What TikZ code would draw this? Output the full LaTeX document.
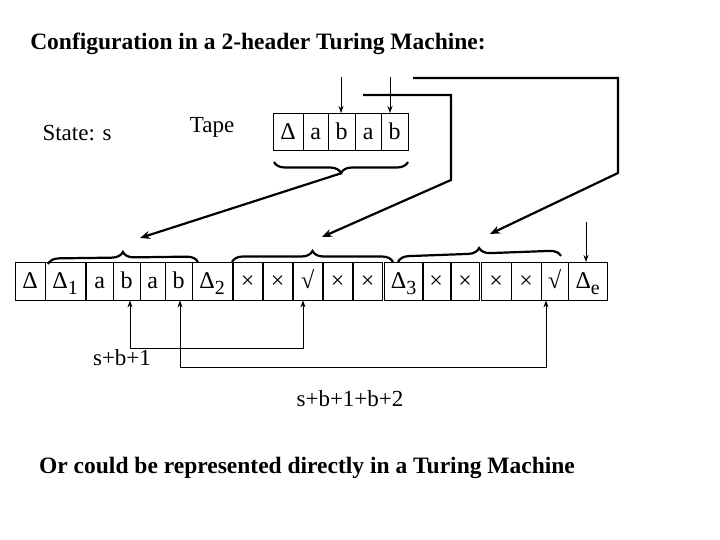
\documentclass[tikz,border=0pt]{standalone}
\usepackage{fontspec}
\setmainfont{Liberation Serif}
\usetikzlibrary{decorations.pathreplacing,arrows.meta}
\newcommand{\sbs}[1]{\raisebox{-6pt}{\fontsize{20}{20}\selectfont #1}}
\begin{document}
\begin{tikzpicture}[x=1pt,y=-1pt,
  cell/.style={draw,thin,anchor=north west,inner sep=0pt,text height=17pt,text depth=2pt,font=\fontsize{24}{26}\selectfont},
  conn/.style={line width=2.2pt,-{Stealth[length=10pt,width=8pt]}},
  thin arr/.style={line width=1pt,-{Stealth[length=7pt,width=5pt]}},
  br/.style={decorate,decoration={brace,amplitude=11pt},line width=2.2pt},
  lab/.style={font=\fontsize{23}{26}\selectfont}]
\useasboundingbox (0,0) rectangle (720,540);
\node[font=\bfseries\fontsize{23.5}{26}\selectfont] (title) at (258,44) {Configuration in a 2-header Turing Machine:};
\node[lab] (state) at (77,133) {State: s};
\node[lab] (tape) at (212,127) {Tape};
% top tape
\foreach \n/\a/\b/\t in {t1/273/303/Δ,t2/303/328/a,t3/328/355/b,t4/355/381/a,t5/381/408/b}{
  \pgfmathsetmacro{\w}{\b-\a}
  \node[cell,minimum width=\w pt,minimum height=37pt] (\n) at (\a,113) {\t};
}
% bottom row
\foreach \n/\a/\b/\t in {c1/15/45/Δ,c2/45/85/{Δ\sbs{1}},c3/86/113/a,c4/113/140/b,c5/140/165/a,c6/165/192/b,
  c7/192/232/{Δ\sbs{2}},c8/233/262/×,c9/263/292/×,c10/293/322/√,c11/323/352/×,c12/353/382/×,
  c13/384/423/{Δ\sbs{3}},c14/422/450/×,c15/451/479/×,c16/481/511/×,c17/511/541/×,c18/541/568/√,
  c19/568/607/{Δ\sbs{e}}}{
  \pgfmathsetmacro{\w}{\b-\a}
  \node[cell,minimum width=\w pt,minimum height=38pt] (\n) at (\a,262) {\t};
}
% top arrows into tape
\coordinate (h1) at (341,77);
\coordinate (h2) at (390,77);
\draw[thin arr] (h1) -- (h1 |- t3.north);
\draw[thin arr] (h2) -- (h2 |- t5.north);
% brace under tape
\draw[br] (408,162) -- (274,162);
\coordinate (btip) at (342,173);
% bottom braces
\draw[br] (48,264) -- (198,262);
\draw[br] (232,262) -- (393,262);
\draw[br] (398,262) -- (561,256);
\coordinate (b1) at (140,238);
\coordinate (b2) at (322,237);
\coordinate (b3) at (490,234);
\draw[conn] (btip) -- (b1);
\coordinate (s2) at (363,95);
\coordinate (s3) at (413,78);
\draw[conn] (s2) -- (451,95) -- (451,180) -- (b2);
\draw[conn] (s3) -- (618,78) -- (618,173) -- (b3);
\coordinate (e1) at (586,222);
\draw[thin arr] (e1) -- (e1 |- c19.north);
% bottom connectors
\coordinate (p1) at (130,348);
\coordinate (p2) at (303,348);
\coordinate (q1) at (180,367);
\coordinate (q2) at (546,367);
\draw[thin arr] (p2) -- (p1) -- (p1 |- c4.south);
\draw[thin arr] (p1) -- (p2) -- (p2 |- c10.south);
\draw[thin arr] (q2) -- (q1) -- (q1 |- c6.south);
\draw[thin arr] (q1) -- (q2) -- (q2 |- c18.south);
\node[lab] (l1) at (122,358) {s+b+1};
\node[lab] (l2) at (350,399) {s+b+1+b+2};
\node[font=\bfseries\fontsize{23.5}{26}\selectfont] (foot) at (307,468) {Or could be represented directly in a Turing Machine};
\end{tikzpicture}
\end{document}
